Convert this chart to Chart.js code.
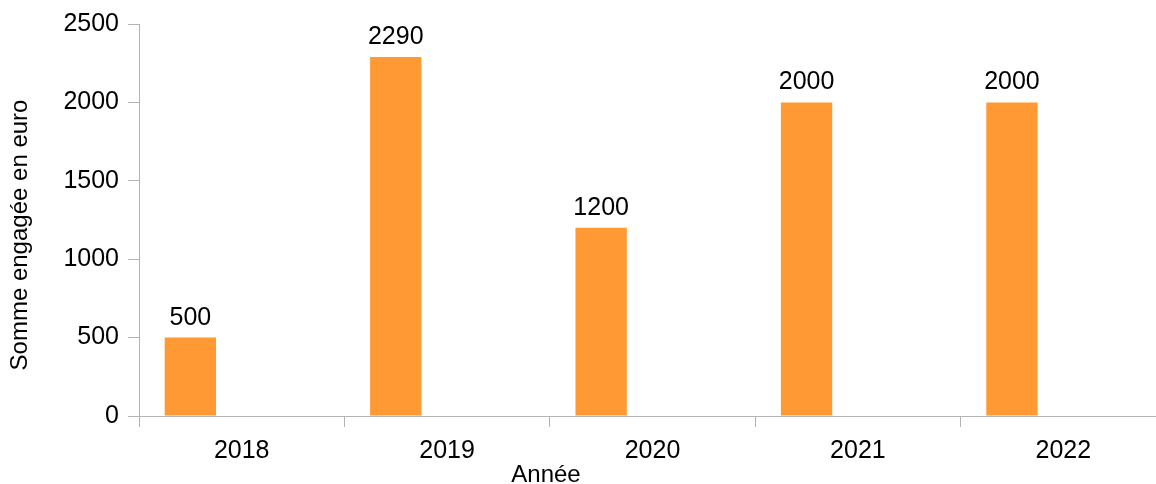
<!DOCTYPE html>
<html>
<head>
<meta charset="utf-8">
<script src="https://cdn.jsdelivr.net/npm/chart.js@4"></script>
<style>
  html, body { margin: 0; padding: 0; background: #fff; overflow: hidden; }
  #wrap { width: 1170px; height: 484px; }
</style>
</head>
<body>
<div id="wrap"><canvas id="chart1" width="1170" height="484"></canvas></div>
<script>
// Data
const years = ['2018', '2019', '2020', '2021', '2022'];
const amounts = [500, 2290, 1200, 2000, 2000];
// the source chart has two more (empty) series that keep their slots
const emptySeries = [null, null, null, null, null];
const yTicks = [0, 500, 1000, 1500, 2000, 2500];

const axisGray = '#b3b3b3';
const barColor = '#ff9933';
const tickFont = { family: 'Liberation Sans', size: 25 };

// values above the bars
const barLabels = {
  id: 'barLabels',
  afterDatasetsDraw(chart) {
    const ctx = chart.ctx;
    const meta = chart.getDatasetMeta(0);
    ctx.save();
    ctx.fillStyle = '#000';
    ctx.font = '25px "Liberation Sans"';
    ctx.textAlign = 'center';
    ctx.textBaseline = 'alphabetic';
    meta.data.forEach((bar, i) => {
      ctx.fillText(String(amounts[i]), bar.x, bar.y - 13);
    });
    ctx.restore();
  },
};

// axis titles
const axisTitles = {
  id: 'axisTitles',
  afterDraw(chart) {
    const ctx = chart.ctx;
    ctx.save();
    ctx.fillStyle = '#000';
    ctx.font = '24px "Liberation Sans"';
    ctx.textAlign = 'center';
    ctx.textBaseline = 'alphabetic';
    ctx.fillText('Année', 546, 482);
    ctx.translate(27, 235);
    ctx.rotate(-Math.PI / 2);
    ctx.fillText('Somme engagée en euro', 0, 0);
    ctx.restore();
  },
};

var ctx = document.getElementById('chart1').getContext('2d');
var chart = new Chart(ctx, {
  type: 'bar',
  data: {
    labels: years,
    datasets: [
      {
        label: 'Somme engagée',
        data: amounts,
        backgroundColor: barColor,
        borderWidth: 0,
      },
      { label: 'vide 1', data: emptySeries, backgroundColor: barColor },
      { label: 'vide 2', data: emptySeries, backgroundColor: barColor },
    ],
  },
  options: {
    responsive: false,
    animation: false,
    devicePixelRatio: 1,
    layout: { padding: { top: 22, right: 4, left: 0, bottom: 0 } },
    datasets: {
      bar: { categoryPercentage: 0.75, barPercentage: 1.0 },
    },
    plugins: {
      legend: { display: false },
      tooltip: { enabled: false },
    },
    scales: {
      x: {
        grid: {
          offset: true,
          drawOnChartArea: false,
          drawTicks: true,
          tickLength: 11,
          color: axisGray,
        },
        border: { color: axisGray, width: 1 },
        ticks: { color: '#000', font: tickFont, padding: 9, maxRotation: 0 },
        afterFit(scale) {
          scale.height = 68;
        },
      },
      y: {
        min: 0,
        max: 2500,
        afterBuildTicks(scale) {
          scale.ticks = yTicks.map(v => ({ value: v }));
        },
        grid: {
          drawOnChartArea: false,
          drawTicks: true,
          tickLength: 11,
          color: axisGray,
        },
        border: { color: axisGray, width: 1 },
        ticks: {
          color: '#000',
          font: tickFont,
          padding: 9,
          callback: value => String(value),
        },
        afterFit(scale) {
          scale.width = 139;
        },
      },
    },
  },
  plugins: [barLabels, axisTitles],
});
</script>
</body>
</html>
